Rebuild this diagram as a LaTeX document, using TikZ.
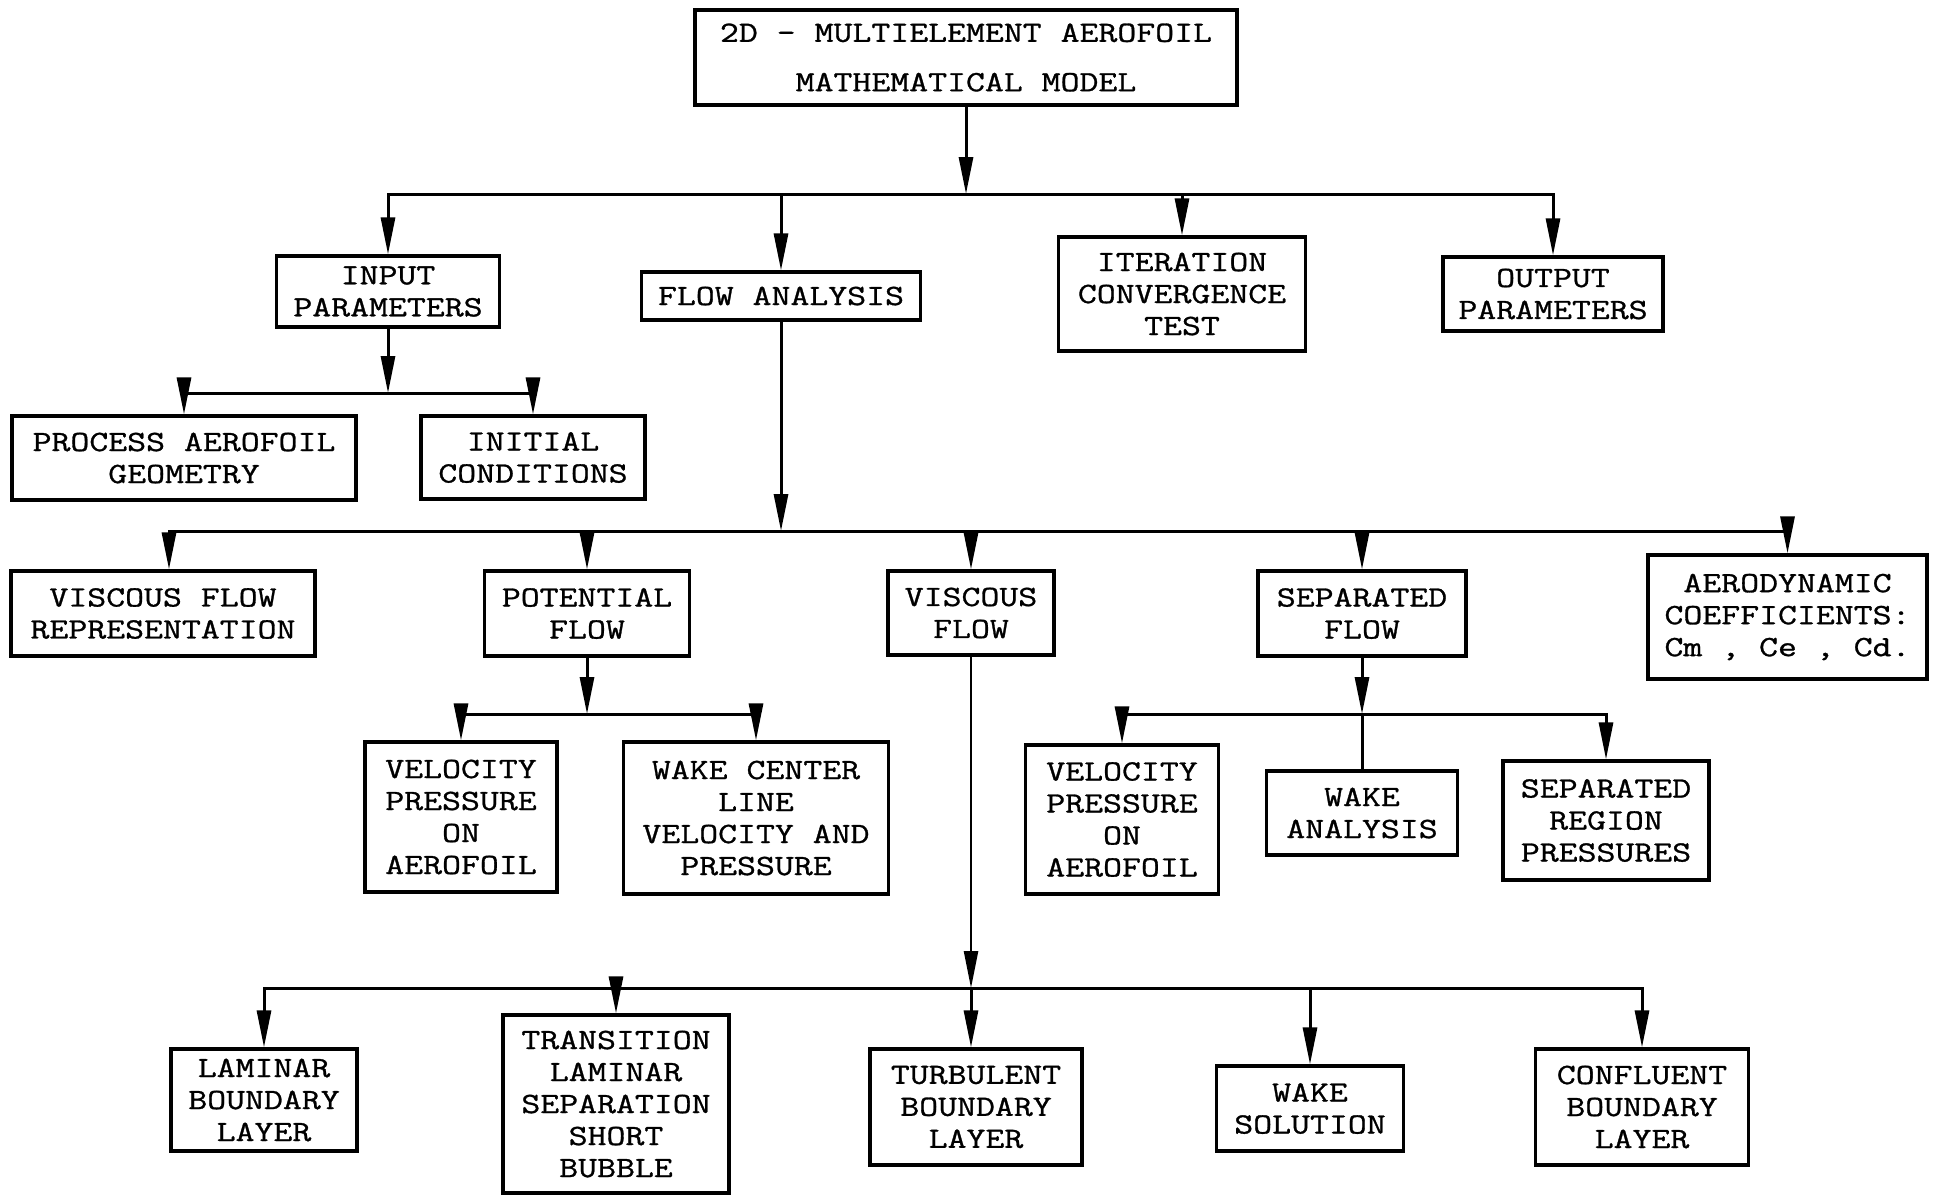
\documentclass[tikz,border=0pt]{standalone}
\usepackage{fontspec}
\setmonofont{Latin Modern Mono}[FakeStretch=1.25,FakeBold=1.0]
\usetikzlibrary{arrows.meta}
\newcommand\chartfont{\ttfamily\fontsize{14.7}{16}\selectfont}
\begin{document}
\begin{tikzpicture}[x=0.5pt,y=-0.5pt,
  box/.style={draw, line width=1.6pt, inner sep=0pt, align=center, font=\chartfont},
  wire/.style={line width=1.5pt, line cap=rect},
  arr/.style={line width=1.5pt, -{Triangle[length=18.5pt,width=7pt]}}]
\useasboundingbox[fill=white] (0,0) rectangle (1937,1196);

% ---- boxes ----
\node[box, minimum width=271pt, minimum height=47.5pt,
      font=\ttfamily\fontsize{14.7}{24.7}\selectfont] (top) at (966,57.5)
  {2D – MULTIELEMENT AEROFOIL\\MATHEMATICAL MODEL};

\node[box, minimum width=111.5pt, minimum height=35.5pt] (inp)  at (388,291.5) {INPUT\\PARAMETERS};
\node[box, minimum width=139.5pt, minimum height=24pt]   (flow) at (781,296)   {FLOW ANALYSIS};
\node[box, minimum width=123.5pt, minimum height=57pt]   (iter) at (1182,294)  {ITERATION\\CONVERGENCE\\TEST};
\node[box, minimum width=110pt,   minimum height=37pt]   (out)  at (1553,294)  {OUTPUT\\PARAMETERS};

\node[box, minimum width=172pt, minimum height=42pt]   (proc) at (184,458)   {PROCESS AEROFOIL\\GEOMETRY};
\node[box, minimum width=112pt, minimum height=41.5pt] (init) at (533,457.5) {INITIAL\\CONDITIONS};

\node[box, minimum width=152pt,   minimum height=42.5pt] (vfr)  at (163,613.5)  {VISCOUS FLOW\\REPRESENTATION};
\node[box, minimum width=102.5pt, minimum height=42.5pt] (pot)  at (587,613.5)  {POTENTIAL\\FLOW};
\node[box, minimum width=83pt,    minimum height=42pt]   (visc) at (971,613)    {VISCOUS\\FLOW};
\node[box, minimum width=104pt,   minimum height=42.5pt] (sep)  at (1362,613.5) {SEPARATED\\FLOW};
\node[box, minimum width=139.5pt, minimum height=62pt]   (aero) at (1787.5,617) {AERODYNAMIC\\COEFFICIENTS:\\Cm , Ce , Cd.};

\node[box, minimum width=96pt,    minimum height=75pt]   (vpa1) at (461,817)    {VELOCITY\\PRESSURE\\ON\\AEROFOIL};
\node[box, minimum width=132.5pt, minimum height=76pt]   (wake) at (756,818)    {WAKE CENTER\\LINE\\VELOCITY AND\\PRESSURE};
\node[box, minimum width=96.5pt,  minimum height=74.5pt] (vpa2) at (1122,819.5) {VELOCITY\\PRESSURE\\ON\\AEROFOIL};
\node[box, minimum width=95.5pt,  minimum height=42pt]   (wan)  at (1362,813)   {WAKE\\ANALYSIS};
\node[box, minimum width=103pt,   minimum height=59.5pt] (srp)  at (1606,820.5) {SEPARATED\\REGION\\PRESSURES};

\node[box, minimum width=93pt,    minimum height=51pt]   (lam)   at (264,1100)    {LAMINAR\\BOUNDARY\\LAYER};
\node[box, minimum width=113pt,   minimum height=89pt]   (trans) at (616,1104)    {TRANSITION\\LAMINAR\\SEPARATION\\SHORT\\BUBBLE};
\node[box, minimum width=106pt,   minimum height=58pt]   (turb)  at (976,1107)    {TURBULENT\\BOUNDARY\\LAYER};
\node[box, minimum width=93.5pt,  minimum height=42.5pt] (wsol)  at (1310,1108.5) {WAKE\\SOLUTION};
\node[box, minimum width=106.5pt, minimum height=58pt]   (conf)  at (1642,1107)   {CONFLUENT\\BOUNDARY\\LAYER};

% ---- bus junctions ----
\coordinate (b1) at (966,194);
\coordinate (b2) at (388,393);
\coordinate (b3) at (781,531);
\coordinate (d1) at (169,531);
\coordinate (b4) at (587,714);
\coordinate (b5) at (1362,714);
\coordinate (b6) at (971,988);

% top level
\draw[arr] (top.south) -- (top.south |- b1);
\draw[wire] (b1 -| inp.north) -- (b1 -| out.north);
\foreach \n in {inp,flow,iter,out} \draw[arr] (b1 -| \n.north) -- (\n.north);

% input parameters
\draw[arr] (inp.south) -- (inp.south |- b2);
\draw[wire] (b2 -| proc.north) -- (b2 -| init.north);
\foreach \n in {proc,init} \draw[arr] (b2 -| \n.north) -- (\n.north);

% flow analysis
\draw[arr] (flow.south) -- (flow.south |- b3);
\draw[wire] (d1) -- (b3 -| aero.north);
\draw[arr] (d1) -- (d1 |- vfr.north);
\foreach \n in {pot,visc,sep,aero} \draw[arr] (b3 -| \n.north) -- (\n.north);

% potential flow
\draw[arr] (pot.south) -- (pot.south |- b4);
\draw[wire] (b4 -| vpa1.north) -- (b4 -| wake.north);
\foreach \n in {vpa1,wake} \draw[arr] (b4 -| \n.north) -- (\n.north);

% separated flow
\draw[arr] (sep.south) -- (sep.south |- b5);
\draw[wire] (b5 -| vpa2.north) -- (b5 -| srp.north);
\foreach \n in {vpa2,srp} \draw[arr] (b5 -| \n.north) -- (\n.north);
\draw[wire] (b5) -- (wan.north);

% viscous flow
\draw[arr, line width=1.2pt] (visc.south) -- (visc.south |- b6);
\draw[wire] (b6 -| lam.north) -- (b6 -| conf.north);
\draw[arr] (b6) -- (b6 |- turb.north);
\foreach \n in {lam,trans,wsol,conf} \draw[arr] (b6 -| \n.north) -- (\n.north);
\end{tikzpicture}
\end{document}
